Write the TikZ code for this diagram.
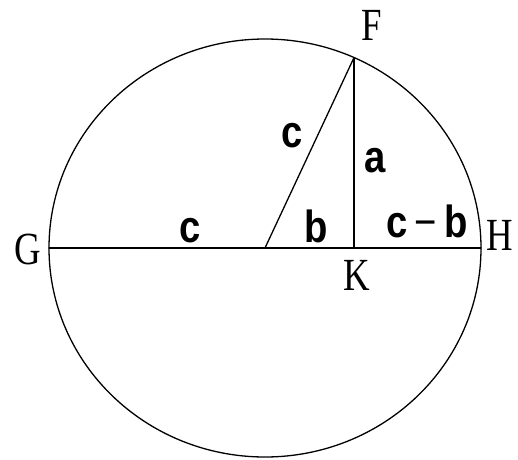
\documentclass[tikz,border=0pt]{standalone}
\usepackage{fontspec}
\newfontfamily\ptfont[FakeStretch=0.8]{Liberation Serif}
\newfontfamily\lenfont[FakeStretch=0.85,BoldFont={Liberation Sans Bold}]{Liberation Sans}
\tikzset{
  pt/.style={font=\ptfont\fontsize{46}{46}\selectfont, inner sep=0pt},
  len/.style={font=\lenfont\bfseries\fontsize{45}{45}\selectfont, inner sep=0pt, anchor=base},
}
\begin{document}
\begin{tikzpicture}[x=1pt, y=1pt, line join=round, line cap=round]
	\useasboundingbox (0,0) rectangle (518,459);
	% points of the figure
	\coordinate (O) at (265,211);
	\coordinate (G) at (49,211);
	\coordinate (H) at (481,211);
	\coordinate (K) at (354,211);
	\coordinate (F) at (354,401.4);
	\draw[line width=1.3pt] (O) ellipse [x radius=216, y radius=209];
	\draw[line width=1.3pt] (G) -- (H);
	\draw[line width=1.3pt] (O) -- (F);
	\draw[line width=1.3pt] (F) -- (K);
	% letters
	\node[pt] (labG) at (28,210) {G};
	\node[pt] (labH) at (500,224) {H};
	\node[pt] (labF) at (372,434) {F};
	\node[pt] (labK) at (357,184) {K};
	% lengths
	\node[len] (lenGO) at (190,217) {c};
	\node[len] (lenOF) at (292,312) {c};
	\node[len] (lenKF) at (375,287) {a};
	\node[len] (lenOK) at (316,217) {b};
	\node[len] (lenKH) at (427,222) {c{\mdseries\,−\,}b};
\end{tikzpicture}
\end{document}
